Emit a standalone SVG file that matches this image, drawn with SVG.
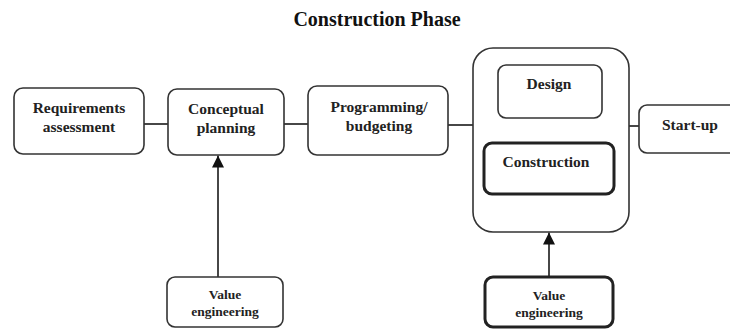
<svg xmlns="http://www.w3.org/2000/svg" width="730" height="329" viewBox="0 0 730 329">
<defs>
<style>
.box{fill:#fff;stroke:#333;stroke-width:1.6}
.thick{fill:#fff;stroke:#222;stroke-width:3}
.lbl{font-family:"Liberation Serif","Times New Roman",serif;font-weight:bold;font-size:15.5px;fill:#222;text-anchor:middle}
.sm{font-size:13.5px}
.title{font-family:"Liberation Serif","Times New Roman",serif;font-weight:bold;font-size:20px;fill:#111;text-anchor:middle}
.conn{stroke:#333;stroke-width:1.8;fill:none}
</style>
<marker id="arr" viewBox="0 0 12 12" refX="12" refY="6" markerWidth="12" markerHeight="12" orient="auto" markerUnits="userSpaceOnUse">
<path d="M0,0 L12,6 L0,12 z" fill="#111"/>
</marker>
</defs>
<rect width="730" height="329" fill="#fff"/>
<text class="title" x="377" y="26">Construction Phase</text>
<g id="connectors">
<line class="conn" x1="144" y1="124" x2="168" y2="124"/>
<line class="conn" x1="284" y1="124" x2="308" y2="124"/>
<line class="conn" x1="448" y1="125" x2="473" y2="125"/>
<line class="conn" x1="629" y1="126" x2="639" y2="126"/>
<line class="conn" x1="218" y1="277" x2="218" y2="155.5" marker-end="url(#arr)"/>
<line class="conn" x1="549" y1="277" x2="549" y2="232.5" marker-end="url(#arr)"/>
</g>
<g id="requirements">
<rect class="box" x="14" y="88" width="130" height="66" rx="9"/>
<text class="lbl" x="79" y="113">Requirements</text>
<text class="lbl" x="79" y="132">assessment</text>
</g>
<g id="conceptual">
<rect class="box" x="168" y="89" width="116" height="66" rx="9"/>
<text class="lbl" x="226" y="114">Conceptual</text>
<text class="lbl" x="226" y="133">planning</text>
</g>
<g id="programming">
<rect class="box" x="308" y="86" width="140" height="69" rx="9"/>
<text class="lbl" x="379" y="112">Programming/</text>
<text class="lbl" x="379" y="131">budgeting</text>
</g>
<g id="phase">
<rect class="box" x="473" y="48" width="156" height="184" rx="20"/>
</g>
<g id="design">
<rect class="box" x="498" y="65" width="104" height="53" rx="8"/>
<text class="lbl" x="549" y="89">Design</text>
</g>
<g id="construction">
<rect class="thick" x="484" y="143" width="130" height="51" rx="8"/>
<text class="lbl" x="546" y="167">Construction</text>
</g>
<g id="startup">
<rect class="box" x="639" y="105" width="110" height="48" rx="8"/>
<text class="lbl" x="690" y="130">Start-up</text>
</g>
<g id="value1">
<rect class="box" x="167" y="277" width="116" height="50" rx="8"/>
<text class="lbl sm" x="225" y="299">Value</text>
<text class="lbl sm" x="225" y="316">engineering</text>
</g>
<g id="value2">
<rect class="thick" x="485" y="277" width="128" height="50" rx="8"/>
<text class="lbl sm" x="549" y="300">Value</text>
<text class="lbl sm" x="549" y="317">engineering</text>
</g>
</svg>
